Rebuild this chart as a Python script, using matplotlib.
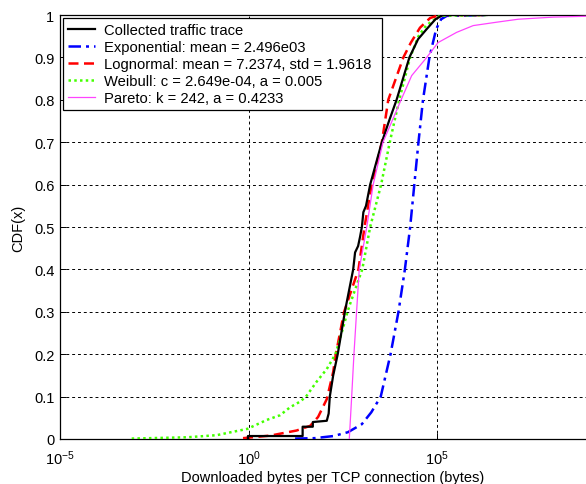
import numpy as np
import matplotlib
matplotlib.use("Agg")
import matplotlib.pyplot as plt
from matplotlib.ticker import FixedLocator, FixedFormatter
from matplotlib.patches import Rectangle
from matplotlib.transforms import IdentityTransform

plt.rcParams['font.family'] = ['Liberation Sans', 'DejaVu Sans']
plt.rcParams['mathtext.fontset'] = 'custom'
plt.rcParams['mathtext.rm'] = 'Liberation Sans'
plt.rcParams['mathtext.it'] = 'Liberation Sans:italic'
plt.rcParams['mathtext.bf'] = 'Liberation Sans:bold'

# ---- data (x given as log10 of bytes) ----
trace_logx = [-0.02, -0.02, 1.43, 1.43, 1.70, 1.70, 2.07, 2.12, 2.15, 2.24, 2.36, 2.55, 2.58,
              2.77, 2.82, 2.90, 2.95, 3.00, 3.04, 3.11, 3.22, 3.48, 3.53, 3.70, 3.92, 4.10,
              4.26, 4.49, 4.72, 4.95, 5.15, 6.30]
trace_cdf = [0.0, 0.007, 0.007, 0.029, 0.029, 0.040, 0.043, 0.060, 0.10, 0.15, 0.20, 0.30, 0.314,
             0.40, 0.44, 0.455, 0.476, 0.50, 0.535, 0.55, 0.60, 0.684, 0.70, 0.745, 0.80, 0.853,
             0.90, 0.943, 0.967, 0.99, 1.0, 1.0]

exp_logx = [1.23, 1.75, 2.25, 2.63, 3.00, 3.25, 3.50, 3.76, 3.97, 4.14, 4.28, 4.39, 4.50,
            4.62, 4.79, 4.97, 5.10, 5.25, 6.30]
exp_cdf = [0.001, 0.002, 0.007, 0.016, 0.035, 0.063, 0.10, 0.20, 0.30, 0.40, 0.50, 0.60, 0.70,
           0.80, 0.90, 0.967, 0.990, 0.998, 1.0]

logn_logx = [-0.15, 0.57, 1.27, 1.63, 1.84, 2.07, 2.24, 2.31, 2.53, 2.91, 3.07, 3.26, 3.53,
             3.70, 3.90, 4.10, 4.30, 4.54, 4.81, 5.07, 6.30]
logn_cdf = [0.002, 0.008, 0.02, 0.031, 0.052, 0.094, 0.158, 0.20, 0.30, 0.40, 0.50, 0.60, 0.70,
            0.80, 0.85, 0.90, 0.935, 0.97, 0.993, 1.0, 1.0]

weib_logx = [-3.10, -1.64, -0.85, -0.03, 0.48, 0.83, 1.10, 1.36, 1.52, 1.80, 2.07, 2.30, 2.42,
             2.62, 2.67, 3.01, 3.22, 3.51, 3.74, 3.99, 4.28, 4.50, 4.70, 4.94, 5.07, 6.30]
weib_cdf = [0.001, 0.004, 0.009, 0.024, 0.045, 0.056, 0.075, 0.088, 0.10, 0.135, 0.165, 0.20,
            0.236, 0.30, 0.314, 0.40, 0.50, 0.60, 0.70, 0.80, 0.90, 0.95, 0.975, 0.99, 0.998, 1.0]

pareto_logx = [2.667, 2.73, 2.79, 2.86, 2.93, 3.13, 3.30, 3.56, 4.04, 4.32, 4.72, 5.02, 5.51,
               5.95, 6.57, 7.14, 8.07, 8.94, 10.0]
pareto_cdf = [0.0, 0.1, 0.2, 0.3, 0.4, 0.5, 0.6, 0.7, 0.8, 0.857, 0.9, 0.935, 0.959,
              0.975, 0.983, 0.99, 0.995, 0.997, 0.999]

labels = ["Collected traffic trace",
          "Exponential: mean = 2.496e03",
          "Lognormal: mean = 7.2374, std = 1.9618",
          "Weibull: c = 2.649e-04, a = 0.005",
          "Pareto: k = 242, a = 0.4233"]

xtick_exp = [-5, 0, 5]
ytick_vals = [0, 0.1, 0.2, 0.3, 0.4, 0.5, 0.6, 0.7, 0.8, 0.9, 1]
ytick_labels = ["0", "0.1", "0.2", "0.3", "0.4", "0.5", "0.6", "0.7", "0.8", "0.9", "1"]

# ---- figure ----
W, H = 586, 485
fig = plt.figure(figsize=(W / 100, H / 100), dpi=100)
left_px, right_px, top_px, bot_px = 60, 626, 16, 440
ax = fig.add_axes([left_px / W, (H - bot_px) / H, (right_px - left_px) / W, (bot_px - top_px) / H])

tp = lambda v: np.power(10.0, np.asarray(v))

ax.plot(tp(trace_logx), trace_cdf, color='black', lw=1.6, label=labels[0], zorder=5)
ax.plot(tp(exp_logx), exp_cdf, color='#0000FF', lw=1.8, linestyle=(0, (5, 2, 1.2, 2)), label=labels[1], zorder=4)
ax.plot(tp(logn_logx), logn_cdf, color='#FF0000', lw=1.8, linestyle=(0, (4, 2.2)), label=labels[2], zorder=4)
ax.plot(tp(weib_logx), weib_cdf, color='#44FF00', lw=1.8, linestyle=(0, (1, 1.3)), label=labels[3], zorder=4)
ax.plot(tp(pareto_logx), pareto_cdf, color='#FF44FF', lw=0.9, label=labels[4], zorder=6)

ax.set_xscale('log')
ax.set_xlim(1e-5, 1e10)
ax.set_ylim(0, 1)
ax.xaxis.set_major_locator(FixedLocator([10.0 ** e for e in xtick_exp]))
ax.xaxis.set_major_formatter(FixedFormatter(['$10^{%d}$' % e for e in xtick_exp]))
ax.xaxis.set_minor_locator(FixedLocator([]))
ax.yaxis.set_major_locator(FixedLocator(ytick_vals))
ax.yaxis.set_major_formatter(FixedFormatter(ytick_labels))
ax.tick_params(direction='in', length=4, width=0.7, labelsize=10.5, colors='black')
ax.tick_params(axis='x', pad=7)
ax.tick_params(axis='y', pad=4)
ax.grid(True, color='black', linestyle=(0, (3, 3)), linewidth=0.7)
for s in ax.spines.values():
    s.set_linewidth(0.9)

ax.set_xlabel("Downloaded bytes per TCP connection (bytes)", fontsize=10.5)
ax.xaxis.set_label_coords((333 - left_px) / (right_px - left_px), -0.072)
ax.set_ylabel("CDF(x)", fontsize=10.5, labelpad=6)

leg = ax.legend(loc='upper left', fontsize=10.6, frameon=False,
                borderaxespad=0.17, borderpad=0.38, labelspacing=0.2, handlelength=1.8,
                handletextpad=0.62)
leg.set_zorder(10)
fig.canvas.draw()
bb = leg.get_window_extent()
frame = Rectangle((bb.x0, bb.y0), bb.width + 5, bb.height, transform=IdentityTransform(),
                  facecolor='white', edgecolor='black', linewidth=0.9, zorder=9)
ax.add_artist(frame)

fig.savefig('out.png', dpi=100)
